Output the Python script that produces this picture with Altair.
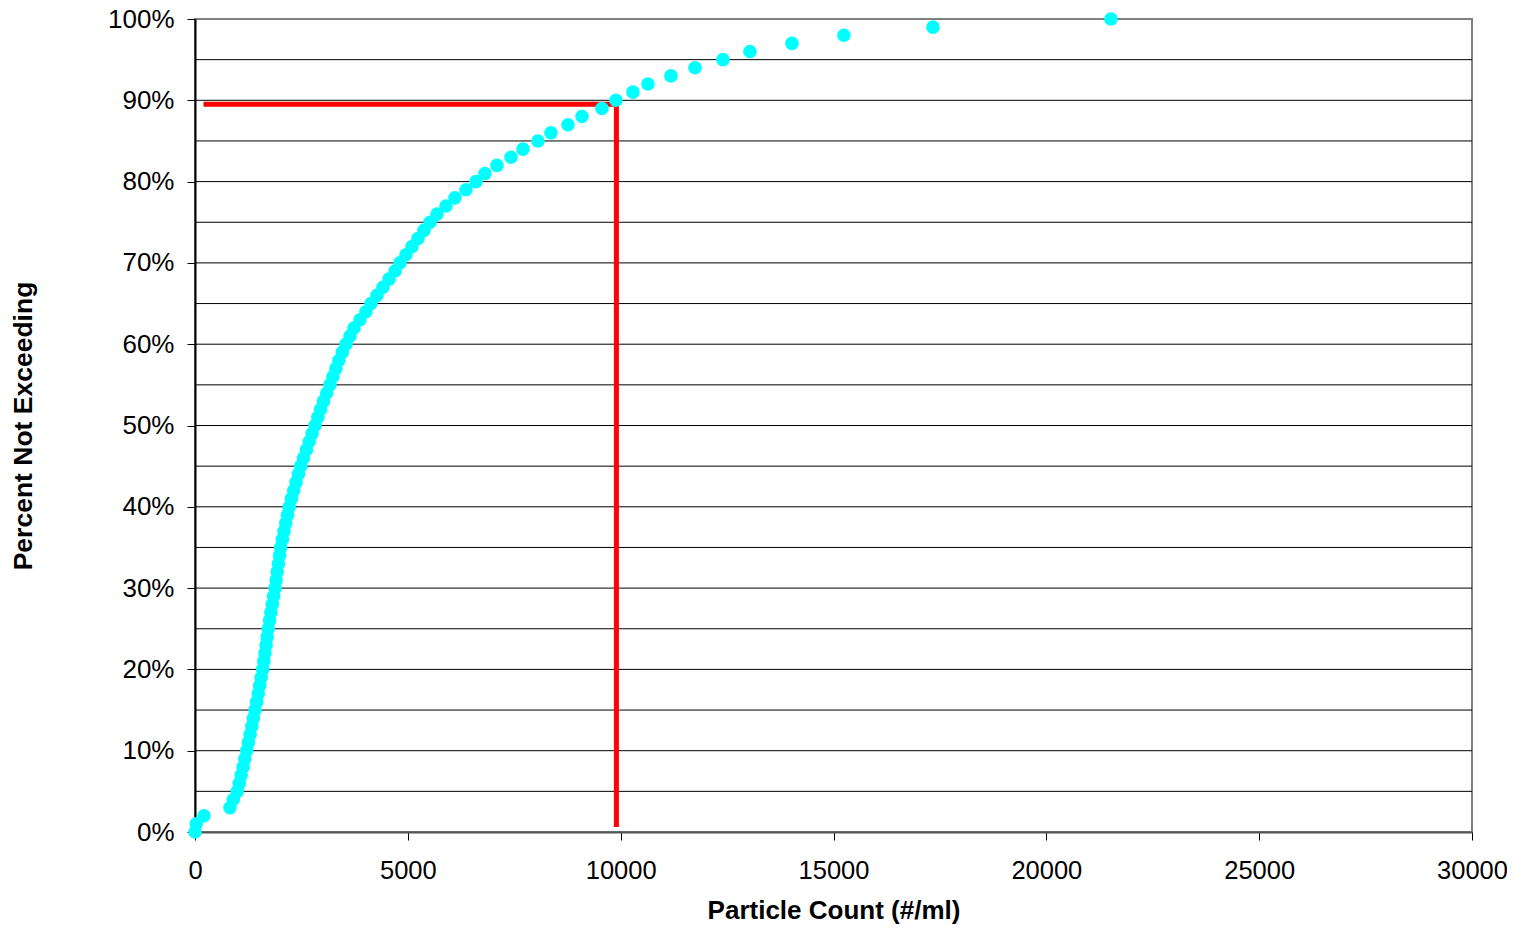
import altair as alt
import pandas as pd

percent_not_exceeding = list(range(0, 101))
particle_count = [
    0, 30, 211, 822, 900, 994, 1040, 1085, 1130, 1170,
    1214, 1255, 1295, 1335, 1372, 1409, 1447, 1485, 1520, 1555,
    1590, 1617, 1644, 1670, 1696, 1722, 1752, 1783, 1815, 1847,
    1879, 1906, 1932, 1960, 1986, 2013, 2052, 2092, 2132, 2173,
    2215, 2266, 2320, 2374, 2428, 2483, 2548, 2615, 2682, 2750,
    2819, 2885, 2952, 3020, 3095, 3171, 3240, 3310, 3380, 3460,
    3547, 3641, 3735, 3876, 4017, 4134, 4275, 4416, 4557, 4698,
    4815, 4956, 5097, 5238, 5379, 5520, 5685, 5896, 6107, 6366,
    6601, 6812, 7094, 7423, 7705, 8057, 8362, 8762, 9091, 9560,
    9889, 10289, 10641, 11181, 11745, 12403, 13037, 14024, 15245, 17336,
    21517,
]

grid_levels = [5, 10, 15, 20, 25, 30, 35, 40, 45, 50, 55, 60, 65, 70, 75, 80, 85, 90, 95]
x_ticks = [0, 5000, 10000, 15000, 20000, 25000, 30000]
y_ticks = [0, 10, 20, 30, 40, 50, 60, 70, 80, 90, 100]

ref_x = [200, 9900, 9900]
ref_y = [89.5, 89.5, 0.6]
ref_order = [0, 1, 2]

pts = pd.DataFrame({"count": particle_count, "pct": percent_not_exceeding})
grid = pd.DataFrame({"level": grid_levels})
ref = pd.DataFrame({"count": ref_x, "pct": ref_y, "o": ref_order})

FONT = "Liberation Sans"

xscale = alt.Scale(domain=[0, 30000], nice=False)
yscale = alt.Scale(domain=[0, 100], nice=False)

x_axis = alt.Axis(
    title="Particle Count (#/ml)", values=x_ticks, format="d", grid=False,
    labelFlush=False,
    labelFont=FONT, labelFontSize=25.5, labelColor="black", labelPadding=18,
    titleFont=FONT, titleFontSize=26, titleFontWeight="bold", titleColor="black",
    titlePadding=14, tickSize=8, tickColor="black", tickWidth=1,
    domainColor="#555555", domainWidth=2,
)
y_axis = alt.Axis(
    title="Percent Not Exceeding", values=y_ticks, grid=False,
    labelExpr="datum.value + '%'", labelFlush=False,
    labelFont=FONT, labelFontSize=26, labelColor="black", labelPadding=13,
    titleFont=FONT, titleFontSize=26.5, titleFontWeight="bold", titleColor="black",
    titlePadding=70, tickSize=8, tickColor="black", tickWidth=1,
    domainColor="black", domainWidth=2,
)

gridlines = alt.Chart(grid).mark_rule(color="black", strokeWidth=1).encode(
    y=alt.Y("level:Q", scale=yscale, axis=y_axis)
)

refline = alt.Chart(ref).mark_line(
    color="#ff0000", strokeWidth=5, strokeJoin="miter", strokeCap="butt"
).encode(
    x=alt.X("count:Q", scale=xscale, axis=x_axis),
    y=alt.Y("pct:Q", scale=yscale, axis=y_axis),
    order="o:O",
)

points = alt.Chart(pts).mark_circle(color="#00ffff", size=185, opacity=1).encode(
    x=alt.X("count:Q", scale=xscale, axis=x_axis),
    y=alt.Y("pct:Q", scale=yscale, axis=y_axis),
)

chart = alt.layer(gridlines, refline, points).properties(
    width=1277, height=813,
    padding={"left": 187, "top": 11, "right": 35, "bottom": 94},
    autosize=alt.AutoSizeParams(type="none"),
    background="white",
).configure_view(stroke="#808080", strokeWidth=2)

chart.save("out.html", embed_options={"renderer": "svg", "actions": False})
